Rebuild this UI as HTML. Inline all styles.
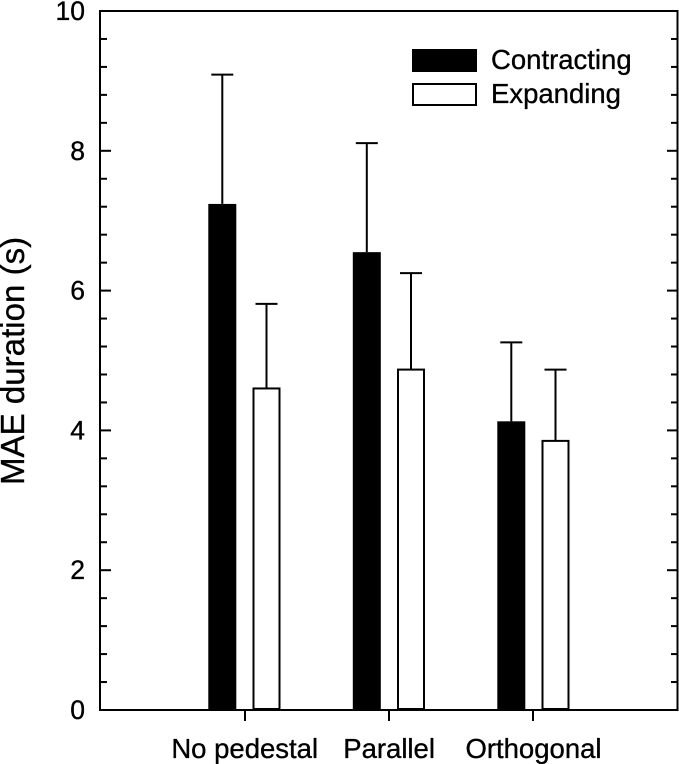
<!DOCTYPE html>
<html lang="en">
<head>
<meta charset="utf-8">
<title>MAE duration chart</title>
<style>
html,body{margin:0;padding:0;background:#fff;}
body{width:679px;height:764px;overflow:hidden;}
svg{display:block;}
text{font-family:"Liberation Sans",sans-serif;fill:#000;stroke:#000;stroke-width:0.35px;}
</style>
</head>
<body>
<svg id="chart" xmlns="http://www.w3.org/2000/svg" width="679" height="764" viewBox="0 0 679 764">
  <g id="marks"></g>
  <rect x="100" y="11" width="577.5" height="699" fill="none" stroke="#000" stroke-width="2"></rect>
  <g id="axes"></g>
  <text transform="translate(24,485) rotate(-90)" font-size="33.1">MAE duration (s)</text>
  <g>
    <rect x="413" y="50" width="63" height="21" fill="#000" stroke="#000" stroke-width="2"></rect>
    <text x="491" y="69" font-size="27.5">Contracting</text>
    <rect x="413" y="84" width="63" height="21" fill="#fff" stroke="#000" stroke-width="2"></rect>
    <text x="491" y="103" font-size="27.5">Expanding</text>
  </g>
</svg>
<script>
const categories = ["No pedestal", "Parallel", "Orthogonal"];
const contractingValues = [7.24, 6.55, 4.13];
const contractingErrorTops = [9.09, 8.11, 5.26];
const expandingValues = [4.60, 4.87, 3.85];
const expandingErrorTops = [5.81, 6.25, 4.87];
const yTickLabels = [0, 2, 4, 6, 8, 10];

const NS = "http://www.w3.org/2000/svg";
const marks = document.getElementById("marks");
const axes = document.getElementById("axes");

function yScale(v) { return 710 - v * 69.9; }
function xTick(i) { return 245 + i * 144; }
function xBar(i) { return 244.8 + i * 144.5; }

function make(parent, tag, attrs) {
  const el = document.createElementNS(NS, tag);
  for (const k in attrs) el.setAttribute(k, attrs[k]);
  parent.appendChild(el);
  return el;
}

function drawErrorBar(cx, topVal, val) {
  const stem = make(marks, "line", {x1: cx, x2: cx, y1: yScale(topVal), y2: yScale(val), stroke: "#000", "stroke-width": 2});
  
  
  const cap = make(marks, "line", {x1: cx - 11, x2: cx + 11, y1: yScale(topVal), y2: yScale(topVal), stroke: "#000", "stroke-width": 2});
  
  
}

categories.forEach(function (name, i) {
  const c = xBar(i);
  const t = xTick(i);
  const blackCx = c - 22.5;
  const whiteCx = c + 21.7;

  drawErrorBar(blackCx, contractingErrorTops[i], contractingValues[i]);
  drawErrorBar(whiteCx, expandingErrorTops[i], expandingValues[i]);

  const blackBar = make(marks, "rect", {x: blackCx - 14, y: yScale(contractingValues[i]), width: 28, height: yScale(0) - yScale(contractingValues[i]), fill: "#000"});
  
  

  const whiteBar = make(marks, "rect", {x: whiteCx - 13, y: yScale(expandingValues[i]), width: 26, height: yScale(0) - yScale(expandingValues[i]) - 1, fill: "#fff", stroke: "#000", "stroke-width": 2});
  
  

  const tick = make(axes, "line", {x1: t, x2: t, y1: 710, y2: 721, stroke: "#000", "stroke-width": 2});
  
  

  const label = make(axes, "text", {x: t - 0.3 + i * 0.4, y: 758, "font-size": 27.5, "text-anchor": "middle"});
  label.textContent = name;
  
  
});

yTickLabels.forEach(function (v) {
  const y = yScale(v);
  const left = make(axes, "line", {x1: 100, x2: 111, y1: y, y2: y, stroke: "#000", "stroke-width": 2});
  
  
  const right = make(axes, "line", {x1: 667, x2: 678, y1: y, y2: y, stroke: "#000", "stroke-width": 2});
  
  
  const label = make(axes, "text", {x: 85, y: y + 9, "font-size": 26.5, "text-anchor": "end"});
  label.textContent = v;
  
  
});

yTickLabels.slice(0, -1).forEach(function (base) {
  [0.4, 0.8, 1.2, 1.6].forEach(function (offset) {
    const y = yScale(base + offset);
    const left = make(axes, "line", {x1: 100, x2: 107, y1: y, y2: y, stroke: "#000", "stroke-width": 2});
    
    
    const right = make(axes, "line", {x1: 671, x2: 678, y1: y, y2: y, stroke: "#000", "stroke-width": 2});
    
    
  });
});
</script>
</body>
</html>
